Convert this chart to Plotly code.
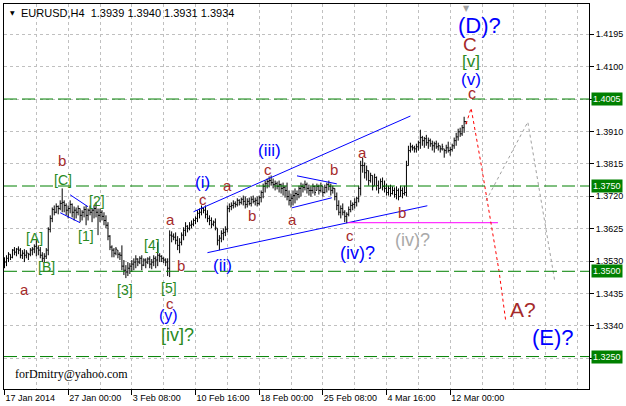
import plotly.graph_objects as go

# ---------------- data (EURUSD H4) ----------------
bar_high = [
    1.3541, 1.3547, 1.3556, 1.3550, 1.3565, 1.3571, 1.3568, 1.3573, 1.3568, 1.3562,
    1.3565, 1.3562, 1.3553, 1.3568, 1.3571, 1.3579, 1.3591, 1.3576, 1.3571, 1.3556,
    1.3553, 1.3568, 1.3629, 1.3664, 1.3687, 1.3693, 1.3699, 1.3693, 1.3708, 1.3743,
    1.3708, 1.3699, 1.3693, 1.3708, 1.3699, 1.3690, 1.3687, 1.3693, 1.3684, 1.3679,
    1.3690, 1.3693, 1.3684, 1.3693, 1.3684, 1.3693, 1.3702, 1.3684, 1.3684, 1.3679,
    1.3673, 1.3664, 1.3644, 1.3606, 1.3576, 1.3568, 1.3571, 1.3562, 1.3556, 1.3576,
    1.3533, 1.3518, 1.3527, 1.3524, 1.3533, 1.3538, 1.3547, 1.3538, 1.3544, 1.3547,
    1.3538, 1.3538, 1.3541, 1.3544, 1.3536, 1.3547, 1.3544, 1.3585, 1.3553, 1.3547,
    1.3541, 1.3538, 1.3538, 1.3620, 1.3617, 1.3611, 1.3614, 1.3603, 1.3597, 1.3614,
    1.3629, 1.3644, 1.3635, 1.3644, 1.3649, 1.3655, 1.3661, 1.3679, 1.3684, 1.3693,
    1.3687, 1.3693, 1.3679, 1.3664, 1.3658, 1.3649, 1.3655, 1.3626, 1.3606, 1.3620,
    1.3626, 1.3632, 1.3693, 1.3699, 1.3702, 1.3708, 1.3705, 1.3714, 1.3711, 1.3716,
    1.3722, 1.3719, 1.3714, 1.3716, 1.3719, 1.3722, 1.3716, 1.3719, 1.3722, 1.3737,
    1.3757, 1.3766, 1.3772, 1.3778, 1.3781, 1.3772, 1.3766, 1.3763, 1.3766, 1.3757,
    1.3760, 1.3751, 1.3760, 1.3737, 1.3728, 1.3737, 1.3743, 1.3737, 1.3751, 1.3760,
    1.3757, 1.3766, 1.3760, 1.3754, 1.3749, 1.3757, 1.3751, 1.3757, 1.3754, 1.3760,
    1.3749, 1.3754, 1.3760, 1.3766, 1.3757, 1.3751, 1.3743, 1.3731, 1.3708, 1.3693,
    1.3699, 1.3679, 1.3673, 1.3690, 1.3708, 1.3702, 1.3714, 1.3719, 1.3751, 1.3824,
    1.3833, 1.3819, 1.3810, 1.3795, 1.3789, 1.3781, 1.3786, 1.3778, 1.3766, 1.3772,
    1.3775, 1.3766, 1.3757, 1.3751, 1.3754, 1.3749, 1.3746, 1.3749, 1.3743, 1.3751,
    1.3746, 1.3751, 1.3824, 1.3868, 1.3877, 1.3871, 1.3868, 1.3874, 1.3883, 1.3915,
    1.3897, 1.3894, 1.3900, 1.3892, 1.3889, 1.3883, 1.3880, 1.3883, 1.3877, 1.3868,
    1.3874, 1.3859, 1.3871, 1.3880, 1.3865, 1.3874, 1.3892, 1.3906, 1.3918, 1.3921,
    1.3929, 1.3953, 1.3940,
]
bar_low = [
    1.3509, 1.3515, 1.3527, 1.3533, 1.3538, 1.3547, 1.3544, 1.3550, 1.3538, 1.3536,
    1.3527, 1.3538, 1.3533, 1.3544, 1.3547, 1.3553, 1.3544, 1.3547, 1.3538, 1.3527,
    1.3524, 1.3536, 1.3547, 1.3614, 1.3644, 1.3664, 1.3670, 1.3667, 1.3679, 1.3673,
    1.3673, 1.3664, 1.3655, 1.3670, 1.3658, 1.3649, 1.3655, 1.3664, 1.3644, 1.3649,
    1.3658, 1.3635, 1.3649, 1.3664, 1.3644, 1.3655, 1.3658, 1.3606, 1.3644, 1.3649,
    1.3635, 1.3626, 1.3591, 1.3562, 1.3541, 1.3541, 1.3547, 1.3538, 1.3533, 1.3503,
    1.3489, 1.3480, 1.3486, 1.3492, 1.3498, 1.3503, 1.3509, 1.3515, 1.3521, 1.3503,
    1.3515, 1.3509, 1.3521, 1.3509, 1.3506, 1.3515, 1.3509, 1.3515, 1.3527, 1.3527,
    1.3524, 1.3515, 1.3486, 1.3483, 1.3585, 1.3591, 1.3579, 1.3562, 1.3553, 1.3576,
    1.3591, 1.3603, 1.3614, 1.3620, 1.3626, 1.3632, 1.3638, 1.3644, 1.3655, 1.3664,
    1.3670, 1.3655, 1.3644, 1.3635, 1.3626, 1.3632, 1.3620, 1.3576, 1.3562, 1.3585,
    1.3591, 1.3603, 1.3614, 1.3673, 1.3679, 1.3684, 1.3687, 1.3690, 1.3693, 1.3696,
    1.3693, 1.3684, 1.3687, 1.3693, 1.3690, 1.3699, 1.3693, 1.3690, 1.3693, 1.3702,
    1.3714, 1.3731, 1.3743, 1.3746, 1.3751, 1.3743, 1.3737, 1.3740, 1.3731, 1.3728,
    1.3722, 1.3716, 1.3708, 1.3693, 1.3687, 1.3693, 1.3699, 1.3708, 1.3714, 1.3719,
    1.3731, 1.3737, 1.3728, 1.3722, 1.3719, 1.3728, 1.3722, 1.3737, 1.3725, 1.3731,
    1.3719, 1.3728, 1.3731, 1.3737, 1.3722, 1.3728, 1.3708, 1.3679, 1.3664, 1.3655,
    1.3664, 1.3644, 1.3641, 1.3661, 1.3673, 1.3679, 1.3684, 1.3690, 1.3702, 1.3722,
    1.3789, 1.3772, 1.3766, 1.3751, 1.3760, 1.3737, 1.3751, 1.3737, 1.3728, 1.3743,
    1.3737, 1.3731, 1.3722, 1.3722, 1.3719, 1.3725, 1.3716, 1.3711, 1.3708, 1.3719,
    1.3714, 1.3722, 1.3719, 1.3810, 1.3848, 1.3854, 1.3848, 1.3848, 1.3854, 1.3859,
    1.3868, 1.3862, 1.3868, 1.3859, 1.3865, 1.3854, 1.3848, 1.3859, 1.3854, 1.3848,
    1.3854, 1.3833, 1.3845, 1.3848, 1.3839, 1.3851, 1.3859, 1.3868, 1.3883, 1.3894,
    1.3897, 1.3906, 1.3931,
]
bar_close = [
    1.3527, 1.3538, 1.3550, 1.3541, 1.3562, 1.3556, 1.3565, 1.3562, 1.3547, 1.3553,
    1.3547, 1.3556, 1.3550, 1.3562, 1.3565, 1.3573, 1.3568, 1.3562, 1.3547, 1.3538,
    1.3544, 1.3562, 1.3623, 1.3655, 1.3681, 1.3673, 1.3690, 1.3684, 1.3699, 1.3702,
    1.3693, 1.3679, 1.3684, 1.3696, 1.3673, 1.3679, 1.3673, 1.3684, 1.3664, 1.3673,
    1.3681, 1.3664, 1.3679, 1.3673, 1.3679, 1.3684, 1.3673, 1.3664, 1.3673, 1.3661,
    1.3649, 1.3635, 1.3603, 1.3571, 1.3562, 1.3553, 1.3565, 1.3550, 1.3547, 1.3515,
    1.3503, 1.3498, 1.3509, 1.3515, 1.3521, 1.3527, 1.3536, 1.3527, 1.3538, 1.3518,
    1.3533, 1.3527, 1.3536, 1.3521, 1.3527, 1.3538, 1.3533, 1.3547, 1.3544, 1.3538,
    1.3533, 1.3527, 1.3509, 1.3606, 1.3603, 1.3600, 1.3591, 1.3576, 1.3585, 1.3606,
    1.3620, 1.3632, 1.3626, 1.3635, 1.3638, 1.3649, 1.3655, 1.3670, 1.3673, 1.3684,
    1.3679, 1.3667, 1.3655, 1.3649, 1.3638, 1.3644, 1.3629, 1.3591, 1.3597, 1.3611,
    1.3614, 1.3623, 1.3684, 1.3690, 1.3693, 1.3699, 1.3696, 1.3708, 1.3702, 1.3711,
    1.3705, 1.3696, 1.3705, 1.3699, 1.3711, 1.3705, 1.3708, 1.3699, 1.3716, 1.3731,
    1.3749, 1.3757, 1.3763, 1.3766, 1.3760, 1.3754, 1.3757, 1.3749, 1.3754, 1.3743,
    1.3746, 1.3737, 1.3719, 1.3708, 1.3714, 1.3722, 1.3728, 1.3725, 1.3743, 1.3749,
    1.3746, 1.3754, 1.3743, 1.3737, 1.3737, 1.3749, 1.3731, 1.3749, 1.3737, 1.3751,
    1.3731, 1.3746, 1.3754, 1.3749, 1.3737, 1.3743, 1.3719, 1.3693, 1.3673, 1.3684,
    1.3673, 1.3661, 1.3667, 1.3681, 1.3693, 1.3696, 1.3702, 1.3714, 1.3743, 1.3810,
    1.3810, 1.3789, 1.3795, 1.3766, 1.3781, 1.3749, 1.3775, 1.3751, 1.3743, 1.3763,
    1.3749, 1.3743, 1.3731, 1.3743, 1.3728, 1.3737, 1.3725, 1.3737, 1.3719, 1.3737,
    1.3728, 1.3731, 1.3810, 1.3854, 1.3865, 1.3862, 1.3859, 1.3865, 1.3877, 1.3892,
    1.3883, 1.3889, 1.3877, 1.3883, 1.3874, 1.3868, 1.3874, 1.3865, 1.3868, 1.3859,
    1.3865, 1.3854, 1.3862, 1.3854, 1.3857, 1.3868, 1.3883, 1.3894, 1.3909, 1.3903,
    1.3921, 1.3939, 1.3934,
]
first_open = 1.3530

date_tick_bars = [0, 32, 64, 96, 128, 160, 192, 224]
date_tick_labels = ["17 Jan 2014", "27 Jan 00:00", "3 Feb 08:00", "10 Feb 16:00",
                    "18 Feb 00:00", "25 Feb 08:00", "4 Mar 16:00", "12 Mar 00:00"]
grid_bars = [16, 48, 80, 112, 144, 176, 208, 240, 256, 272, 288]
price_ticks = [1.3245, 1.3340, 1.3435, 1.3530, 1.3625, 1.3720,
               1.3815, 1.3910, 1.4005, 1.4100, 1.4195]
level_prices = [1.4005, 1.3750, 1.3500, 1.3250]

# projected wave paths and trend lines (bar index, price)
red_path_bars = [232, 234.5, 239.5, 242.5, 248.5, 252]
red_path_prices = [1.39318, 1.39786, 1.38149, 1.37096, 1.35020, 1.33500]
grey_path_bars = [242, 263, 276.5]
grey_path_prices = [1.37067, 1.39377, 1.34728]
blue_lines = [
    ([95, 204], [1.36745, 1.39552]),
    ([102, 212.5], [1.35546, 1.36921]),
    ([33, 42], [1.37242, 1.36892]),
    ([28, 38], [1.36716, 1.36424]),
    ([147, 167], [1.37798, 1.37564]),
    ([144.5, 164.5], [1.36862, 1.37155]),
]
magenta_line = ([172.5, 248], [1.36424, 1.36424])

BROWN, GREEN, BLUE, GREY = "#a52a2a", "#2a8a1e", "#0000ff", "#a9a9a9"
wave_labels = [
    ("b", 29, 1.38237, BROWN, 15), ("[C]", 29.5, 1.37681, GREEN, 14),
    ("[2]", 46.5, 1.37067, GREEN, 14), ("[A]", 15, 1.35985, GREEN, 14),
    ("[1]", 41, 1.36044, GREEN, 14), ("[B]", 21, 1.35137, GREEN, 14),
    ("a", 10, 1.34465, BROWN, 15), ("[3]", 60.5, 1.34465, GREEN, 14),
    ("[4]", 74, 1.35780, GREEN, 14), ("[5]", 82.5, 1.34523, GREEN, 14),
    ("c", 83, 1.34055, BROWN, 15), ("(y)", 82.5, 1.33704, BLUE, 16),
    ("[iv]?", 87, 1.33120, GREEN, 18), ("a", 83.5, 1.36511, BROWN, 15),
    ("b", 88.5, 1.35166, BROWN, 15), ("c", 100, 1.37096, BROWN, 15),
    ("(i)", 99.5, 1.37593, BLUE, 17), ("a", 112, 1.37506, BROWN, 15),
    ("(ii)", 109.5, 1.35166, BLUE, 17), ("b", 124.5, 1.36628, BROWN, 15),
    ("(iii)", 133, 1.38529, BLUE, 17), ("c", 132.5, 1.37973, BROWN, 15),
    ("a", 144.5, 1.36511, BROWN, 15), ("b", 165.5, 1.37973, BROWN, 15),
    ("a", 180, 1.38471, BROWN, 15), ("c", 173.5, 1.36044, BROWN, 15),
    ("(iv)?", 177.5, 1.35546, BLUE, 18), ("b", 200, 1.36716, BROWN, 15),
    ("(iv)?", 205, 1.35927, GREY, 18), ("A?", 260.5, 1.33880, BROWN, 21),
    ("(E)?", 275.5, 1.33061, BLUE, 22), ("(D)?", 238.5, 1.42213, BLUE, 22),
    ("C", 234, 1.41658, BROWN, 19), ("[v]", 234.5, 1.41161, GREEN, 17),
    ("(v)", 234.5, 1.40634, BLUE, 17), ("c", 235, 1.40225, BROWN, 16),
]

# ---------------- figure ----------------
bar_idx = list(range(len(bar_close)))
bar_open = [first_open] + [min(max(c, lo), hi) for c, lo, hi in
                           zip(bar_close[:-1], bar_low[1:], bar_high[1:])]

FONT = "Liberation Sans, Arial, sans-serif"
fig = go.Figure()
fig.add_trace(go.Ohlc(
    x=bar_idx, open=bar_open, high=bar_high, low=bar_low, close=bar_close,
    increasing=dict(line=dict(color="black", width=1)),
    decreasing=dict(line=dict(color="black", width=1)),
    tickwidth=0.5, hoverinfo="skip"))

for xs, ys in blue_lines:
    fig.add_trace(go.Scatter(x=xs, y=ys, mode="lines",
                             line=dict(color=BLUE, width=1), hoverinfo="skip"))
fig.add_trace(go.Scatter(x=magenta_line[0], y=magenta_line[1], mode="lines",
                         line=dict(color="#ff00ff", width=1), hoverinfo="skip"))
fig.add_trace(go.Scatter(x=grey_path_bars, y=grey_path_prices, mode="lines",
                         line=dict(color="#a0a0a0", width=1, dash="3px,3px"),
                         hoverinfo="skip"))
fig.add_trace(go.Scatter(x=red_path_bars, y=red_path_prices, mode="lines",
                         line=dict(color="#ff0000", width=1, dash="3px,3px"),
                         hoverinfo="skip"))

for lv in level_prices:
    fig.add_shape(type="line", xref="paper", x0=0, x1=1, yref="y", y0=lv, y1=lv,
                  line=dict(color="#008000", width=1, dash="13px,5px"))
    fig.add_annotation(xref="paper", x=1, xanchor="left", xshift=2, yref="y", y=lv,
                       text=f"{lv:.4f}", showarrow=False, bgcolor="#008000",
                       borderpad=1, font=dict(family=FONT, size=9, color="white"))

for txt, bx, py, col, sz in wave_labels:
    fig.add_annotation(x=bx, y=py, text=txt, showarrow=False,
                       font=dict(family=FONT, size=sz, color=col))

fig.add_annotation(x=4.5, y=1.31999, xanchor="left", text="forDmitry@yahoo.com",
                   showarrow=False,
                   font=dict(family="Liberation Serif, Times New Roman, serif",
                             size=12, color="black"))
fig.add_annotation(xref="paper", yref="paper", x=0, y=1, xanchor="left",
                   yanchor="top", xshift=15, yshift=-1,
                   text="EURUSD,H4\u00a0\u00a01.3939 1.3940 1.3931 1.3934",
                   showarrow=False, font=dict(family=FONT, size=11, color="black"))
fig.add_annotation(xref="paper", yref="paper", x=0, y=1, xanchor="left",
                   yanchor="top", xshift=4, yshift=-3, text="▼", showarrow=False,
                   font=dict(family="DejaVu Sans", size=6, color="black"))
fig.add_annotation(x=232, yref="paper", y=1, yanchor="top", yshift=2, text="▼",
                   showarrow=False, font=dict(family="DejaVu Sans", size=8, color="#a0a0a0"))

# tick labels hidden where a level box covers them
covered = {1.4005, 1.3245}
tick_text = ["" if v in covered else f"{v:.4f}" for v in price_ticks]

grid = dict(showgrid=True, gridcolor="#c0c0c0", gridwidth=1, griddash="3px,3px")
fig.update_layout(
    width=626, height=406, margin=dict(l=3, r=35, t=3, b=17),
    paper_bgcolor="white", plot_bgcolor="white", showlegend=False,
    font=dict(family=FONT, size=9, color="black"),
    xaxis=dict(range=[-0.25, 293.75], tickmode="array", tickvals=date_tick_bars,
               ticktext=date_tick_labels, ticks="outside", ticklen=5,
               tickcolor="black", ticklabelposition="outside right",
               tickfont=dict(family=FONT, size=9, color="black"),
               showline=True, linecolor="black", linewidth=1, mirror=True,
               zeroline=False, rangeslider=dict(visible=False),
               minor=dict(tickmode="array", tickvals=grid_bars, ticks="", **grid),
               **grid),
    yaxis=dict(range=[1.31549, 1.42836], side="right", tickmode="array",
               tickvals=price_ticks, ticktext=tick_text,
               ticks="outside", ticklen=4, tickcolor="black",
               tickfont=dict(family=FONT, size=9, color="black"),
               showline=True, linecolor="black", linewidth=1, mirror=True,
               zeroline=False, **grid),
)
fig.write_html("out.html", config={"displayModeBar": False},
               post_script="document.body.style.margin='0';"
                           "document.body.style.overflow='hidden';")
